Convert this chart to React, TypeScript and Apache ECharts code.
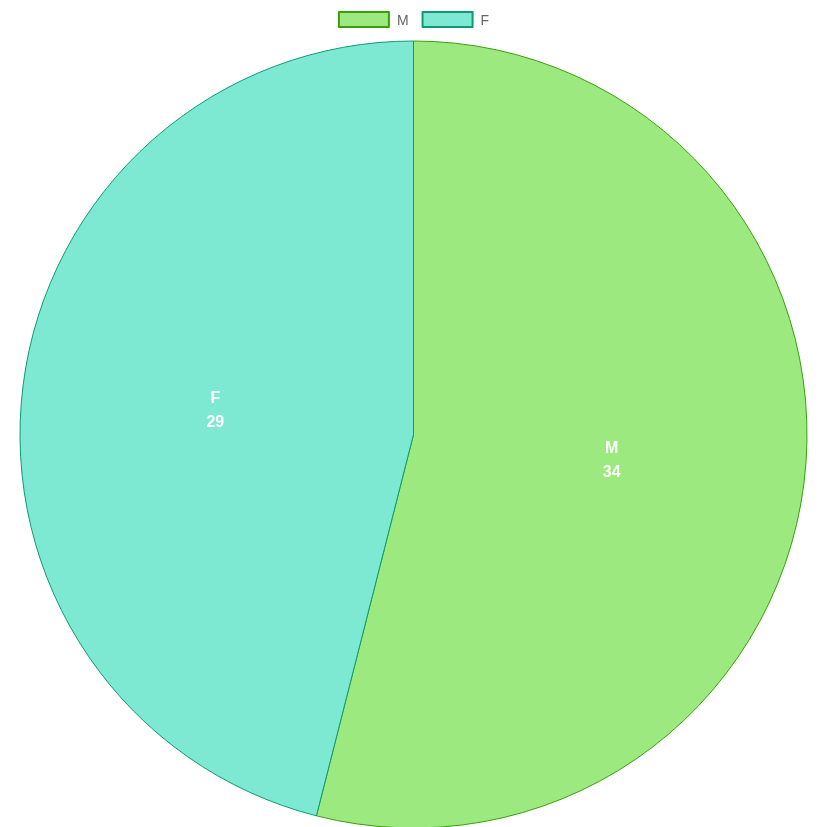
import React, { useEffect, useRef } from "react";
import * as echarts from "echarts";

const categories = ["M", "F"];
const values = [34, 29];
const fillColors = ["#9BE97F", "#7DE9D3"];
const borderColors = ["#3A9E0C", "#0E9A70"];

export default function App() {
  const ref = useRef<HTMLDivElement>(null);
  useEffect(() => {
    document.body.style.margin = "0";
    const chart = echarts.init(ref.current!, undefined, { renderer: "svg" });
    chart.setOption({
      animation: false,
      legend: {
        top: 6,
        left: "center",
        itemWidth: 50,
        itemHeight: 15,
        itemGap: 13,
        icon: "rect",
        textStyle: {
          color: "#666",
          fontSize: 14,
          padding: [0, 0, 0, 3],
          fontFamily: "Liberation Sans, Arial, sans-serif",
        },
        data: categories,
      },
      series: [
        {
          type: "pie",
          center: [413.5, 434.5],
          radius: 393.5,
          startAngle: 90,
          clockwise: true,
          label: {
            position: "inside",
            formatter: "{b}\n{c}",
            color: "#fff",
            fontSize: 16,
            fontWeight: "bold",
            lineHeight: 24,
            fontFamily: "Liberation Sans, Arial, sans-serif",
          },
          labelLine: { show: false },
          emphasis: { disabled: true },
          data: categories.map((c, i) => ({
            name: c,
            value: values[i],
            itemStyle: { color: fillColors[i], borderColor: borderColors[i], borderWidth: 1 },
          })),
        },
      ],
    });
    return () => chart.dispose();
  }, []);
  return <div ref={ref} style={{ position: "fixed", left: 0, top: 0, width: 827, height: 827 }} />;
}
